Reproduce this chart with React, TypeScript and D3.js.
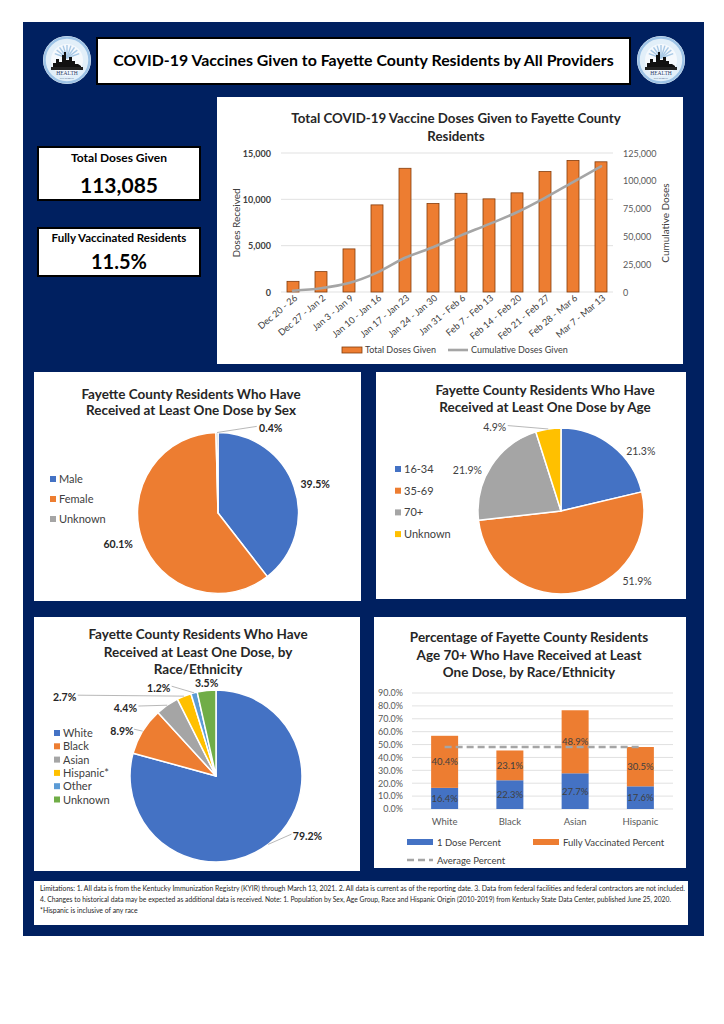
import React from 'react';
import * as d3 from 'd3';

// ---------- DATA ----------
const weekLabels = [
  'Dec 20 - 26', 'Dec 27 - Jan 2', 'Jan 3 - Jan 9', 'Jan 10 - Jan 16', 'Jan 17 - Jan 23', 'Jan 24 - Jan 30',
  'Jan 31 - Feb 6', 'Feb 7 - Feb 13', 'Feb 14 - Feb 20', 'Feb 21 - Feb 27', 'Feb 28 - Mar 6', 'Mar 7 - Mar 13',
];
const weeklyDoses = [1150, 2200, 4650, 9400, 13350, 9550, 10650, 10050, 10700, 13000, 14200, 14050];
const cumulativeDoses = [1150, 3350, 8000, 17400, 30750, 40300, 50950, 61000, 71700, 84700, 98900, 112950];
const leftTicks = [0, 5000, 10000, 15000];
const rightTicks = [0, 25000, 50000, 75000, 100000, 125000];

const sexCategories = ['Male', 'Female', 'Unknown'];
const sexValues = [39.5, 60.1, 0.4];
const ageCategories = ['16-34', '35-69', '70+', 'Unknown'];
const ageValues = [21.3, 51.9, 21.9, 4.9];
const raceCategories = ['White', 'Black', 'Asian', 'Hispanic*', 'Other', 'Unknown'];
const raceValues = [79.2, 8.9, 4.4, 2.7, 1.2, 3.5];

const groups70 = ['White', 'Black', 'Asian', 'Hispanic'];
const oneDosePct = [16.4, 22.3, 27.7, 17.6];
const fullyVaxPct = [40.4, 23.1, 48.9, 30.5];
const averagePct = 48.1;
const pctTicks = [0, 10, 20, 30, 40, 50, 60, 70, 80, 90];

const totalDosesText = '113,085';
const fullyVaxText = '11.5%';

const footerLines = [
  'Limitations: 1. All data is from the Kentucky Immunization Registry (KYIR) through March 13, 2021. 2. All data is current as of the reporting date. 3. Data from federal facilities and federal contractors are not included.',
  '4. Changes to historical data may be expected as additional data is received. Note: 1. Population by Sex, Age Group, Race and Hispanic Origin (2010-2019) from Kentucky State Data Center, published June 25, 2020.',
  '*Hispanic is inclusive of any race',
];

// ---------- STYLE ----------
const NAVY = '#002060';
const FONT = 'Lato, "Open Sans", sans-serif';
const BLUE = '#4472C4';
const ORANGE = '#ED7D31';
const GRAY = '#A5A5A5';
const YELLOW = '#FFC000';
const LBLUE = '#5B9BD5';
const GREEN = '#70AD47';
const TXT = '#262626';
const AX = '#595959';

const fmt = d3.format(',');

function Logo({ cx, cy }: { cx: number; cy: number }) {
  const rays = d3.range(0, 9).map((i) => -160 + i * 17.5);
  const sky: [number, number][] = [
    [-14, 8], [-14, 3], [-11, 3], [-11, -1], [-8, -1], [-8, 2], [-5, 2], [-5, -5], [-3, -5], [-3, -8], [-1, -8],
    [-1, 0], [2, 0], [2, -3], [5, -3], [5, 1], [8, 1], [8, 4], [11, 4], [14, 6], [14, 8],
  ];
  return (
    <g transform={`translate(${cx},${cy})`}>
      <circle r={24} fill="#ffffff" />
      <circle r={22.5} fill="#E2EFF9" stroke="#9DC3E6" strokeWidth={2.5} />
      <circle r={16} fill="#F5F9FD" />
      {rays.map((a, i) => (
        <line key={i} x1={0} y1={-2} x2={Math.cos((a * Math.PI) / 180) * 13} y2={-2 + Math.sin((a * Math.PI) / 180) * 13}
          stroke="#A9C9E6" strokeWidth={1.4} />
      ))}
      <polygon points={sky.map((p) => p.join(',')).join(' ')} fill="#111" />
      <rect x={-16} y={7} width={32} height={3} fill="#222" />
      <text x={0} y={15} textAnchor="middle" fontFamily="serif" fontSize={5.5} fill="#1F3864">HEALTH</text>
      <text x={0} y={19} textAnchor="middle" fontFamily="serif" fontSize={2.2} fill="#1F3864">DEPARTMENT</text>
    </g>
  );
}

function BarLineChart() {
  const x = d3.scalePoint<string>().domain(weekLabels).range([293, 601]);
  const bw = 12;
  const yL = d3.scaleLinear().domain([0, 15000]).range([292, 153]);
  const yR = d3.scaleLinear().domain([0, 125000]).range([292, 153]);
  const line = d3
    .line<number>()
    .x((_, i) => x(weekLabels[i])!)
    .y((d) => yR(d))
    .curve(d3.curveMonotoneX);
  return (
    <g fontFamily={FONT}>
      <rect x={217} y={97} width={466} height={267} fill="#fff" />
      <text x={456} y={123} textAnchor="middle" fontSize={13.3} fontWeight={700} fill={TXT}>
        Total COVID-19 Vaccine Doses Given to Fayette County
      </text>
      <text x={456} y={141} textAnchor="middle" fontSize={13.3} fontWeight={700} fill={TXT}>Residents</text>
      {leftTicks.map((t) => (
        <g key={t}>
          <line x1={281} x2={613} y1={yL(t)} y2={yL(t)} stroke="#D9D9D9" strokeWidth={0.8} />
          <text x={271} y={yL(t) + 3.5} textAnchor="end" fontSize={9} fontWeight={700} fill="#404040">{fmt(t)}</text>
        </g>
      ))}
      {rightTicks.map((t) => (
        <text key={t} x={623} y={yR(t) + 3.5} fontSize={9} fill={AX}>{fmt(t)}</text>
      ))}
      {weeklyDoses.map((v, i) => (
        <rect key={i} x={x(weekLabels[i])! - bw / 2} y={yL(v)} width={bw} height={yL(0) - yL(v)}
          fill={ORANGE} stroke="#843C0C" strokeWidth={0.8} />
      ))}
      <path d={line(cumulativeDoses)!} fill="none" stroke={GRAY} strokeWidth={2.6} strokeLinecap="round" />
      {weekLabels.map((l) => (
        <text key={l} transform={`translate(${x(l)! + 5},${299}) rotate(-40)`} textAnchor="end" fontSize={9.2} fill="#404040">
          {l}
        </text>
      ))}
      <text transform={`translate(240,223) rotate(-90)`} textAnchor="middle" fontSize={10} fill="#404040">Doses Received</text>
      <text transform={`translate(669,223) rotate(-90)`} textAnchor="middle" fontSize={10} fill="#404040">Cumulative Doses</text>
      <rect x={342} y={347} width={20} height={6} fill={ORANGE} stroke="#843C0C" strokeWidth={0.8} />
      <text x={365} y={353} fontSize={9} fill="#404040">Total Doses Given</text>
      <line x1={448} x2={468} y1={350} y2={350} stroke={GRAY} strokeWidth={2.6} />
      <text x={471} y={353} fontSize={9} fill="#404040">Cumulative Doses Given</text>
    </g>
  );
}

type LabelCfg = { f: number; dx: number; dy: number; leader?: number };

function PieChart(props: {
  cx: number; cy: number; r: number; values: number[]; colors: string[]; labels: LabelCfg[]; bold: boolean;
}) {
  const { cx, cy, r, values, colors, labels, bold } = props;
  const arcs = d3.pie<number>().sort(null)(values);
  const arc = d3.arc<d3.PieArcDatum<number>>().innerRadius(0).outerRadius(r);
  return (
    <g transform={`translate(${cx},${cy})`} fontFamily={FONT}>
      {arcs.map((a, i) => (
        <path key={i} d={arc(a)!} fill={colors[i]} stroke="#fff" strokeWidth={1.5} strokeLinejoin="round" />
      ))}
      {arcs.map((a, i) => {
        const cfg = labels[i];
        const mid = (a.startAngle + a.endAngle) / 2;
        const lx = Math.sin(mid) * r * cfg.f + cfg.dx;
        const ly = -Math.cos(mid) * r * cfg.f + cfg.dy;
        const ex = Math.sin(mid) * r;
        const ey = -Math.cos(mid) * r;
        return (
          <g key={i}>
            {cfg.leader !== undefined && (
              <line x1={ex} y1={ey} x2={lx + cfg.leader} y2={ly - 2} stroke="#A6A6A6" strokeWidth={0.8} />
            )}
            <text x={lx} y={ly + 3.5} textAnchor="middle" fontSize={10.5} fontWeight={bold ? 700 : 400}
              fill={bold ? TXT : '#404040'}>
              {`${values[i].toFixed(1)}%`}
            </text>
          </g>
        );
      })}
    </g>
  );
}

function Legend({ x, y, step, items, colors }: { x: number; y: number; step: number; items: string[]; colors: string[] }) {
  return (
    <g fontFamily={FONT}>
      {items.map((it, i) => (
        <g key={it} transform={`translate(${x},${y + i * step})`}>
          <rect x={-3} y={-3} width={6} height={6} fill={colors[i]} />
          <text x={6} y={4} fontSize={11} fill="#404040">{it}</text>
        </g>
      ))}
    </g>
  );
}

function StackedChart() {
  const x = d3.scalePoint<string>().domain(groups70).range([412, 673]).padding(0.5);
  const y = d3.scaleLinear().domain([0, 90]).range([809, 693]);
  const bw = 27;
  const dash = '7,4';
  return (
    <g fontFamily={FONT}>
      <rect x={374} y={617} width={312} height={251} fill="#fff" />
      {['Percentage of Fayette County Residents', 'Age 70+ Who Have Received at Least', 'One Dose, by Race/Ethnicity'].map((t, i) => (
        <text key={i} x={529} y={642 + i * 17.5} textAnchor="middle" fontSize={13.5} fontWeight={700} fill={TXT}>{t}</text>
      ))}
      {pctTicks.map((t) => (
        <g key={t}>
          <line x1={412} x2={673} y1={y(t)} y2={y(t)} stroke="#D9D9D9" strokeWidth={0.8} />
          <text x={403} y={y(t) + 3.3} textAnchor="end" fontSize={9} fill={AX}>{`${t.toFixed(1)}%`}</text>
        </g>
      ))}
      {groups70.map((g, i) => {
        const cx = x(g)!;
        const a = oneDosePct[i];
        const b = fullyVaxPct[i];
        return (
          <g key={g}>
            <rect x={cx - bw / 2} y={y(a)} width={bw} height={y(0) - y(a)} fill={BLUE} />
            <rect x={cx - bw / 2} y={y(a + b)} width={bw} height={y(a) - y(a + b)} fill={ORANGE} />
            <text x={cx} y={y(a / 2) + 3.5} textAnchor="middle" fontSize={9.5} fill="#404040">{`${a.toFixed(1)}%`}</text>
            <text x={cx} y={y(a + b / 2) + 3.5} textAnchor="middle" fontSize={9.5} fill="#404040">{`${b.toFixed(1)}%`}</text>
            <text x={cx} y={825} textAnchor="middle" fontSize={9.5} fill={AX}>{g}</text>
          </g>
        );
      })}
      <line x1={x(groups70[0])!} x2={x(groups70[groups70.length - 1])!} y1={y(averagePct)} y2={y(averagePct)}
        stroke={GRAY} strokeWidth={2.4} strokeDasharray={dash} />
      <rect x={407} y={839} width={26} height={6} fill={BLUE} />
      <text x={437} y={845.5} fontSize={9.5} fill="#404040">1 Dose Percent</text>
      <rect x={533} y={839} width={26} height={6} fill={ORANGE} />
      <text x={563} y={845.5} fontSize={9.5} fill="#404040">Fully Vaccinated Percent</text>
      <line x1={407} x2={433} y1={860} y2={860} stroke={GRAY} strokeWidth={2.4} strokeDasharray={dash} />
      <text x={437} y={863.5} fontSize={9.5} fill="#404040">Average Percent</text>
    </g>
  );
}

export default function App() {
  return (
    <svg width={724} height={1024} viewBox="0 0 724 1024" style={{ position: 'absolute', left: 0, top: 0, background: '#fff' }}>
      <rect x={23} y={22} width={681} height={914} fill={NAVY} />
      {/* Header */}
      <rect x={97} y={38} width={533} height={46} fill="#fff" stroke="#000" strokeWidth={2} />
      <text x={363.5} y={66} textAnchor="middle" fontFamily={FONT} fontSize={15.9} fontWeight={700} fill="#000">
        COVID-19 Vaccines Given to Fayette County Residents by All Providers
      </text>
      <Logo cx={67} cy={60} />
      <Logo cx={661} cy={60} />

      {/* Stat boxes */}
      <g fontFamily={FONT} fill="#000" textAnchor="middle">
        <rect x={38} y={147} width={162} height={53} fill="#fff" stroke="#000" strokeWidth={2} />
        <text x={119} y={162} fontSize={12} fontWeight={700}>Total Doses Given</text>
        <text x={119} y={193} fontSize={21} fontWeight={700}>{totalDosesText}</text>
        <rect x={38} y={228} width={162} height={48} fill="#fff" stroke="#000" strokeWidth={2} />
        <text x={119} y={242} fontSize={11.5} fontWeight={700}>Fully Vaccinated Residents</text>
        <text x={119} y={269} fontSize={20} fontWeight={700}>{fullyVaxText}</text>
      </g>

      <BarLineChart />

      {/* Sex pie */}
      <rect x={34} y={372} width={327} height={229} fill="#fff" />
      <g fontFamily={FONT} textAnchor="middle" fontSize={13.5} fontWeight={700} fill={TXT}>
        <text x={191} y={399}>Fayette County Residents Who Have</text>
        <text x={191} y={415}>Received at Least One Dose by Sex</text>
      </g>
      <PieChart cx={218} cy={513} r={80.5} values={sexValues} colors={[BLUE, ORANGE, GRAY]} bold
        labels={[{ f: 1.25, dx: 2, dy: 4 }, { f: 1.25, dx: -5, dy: -2 }, { f: 1.25, dx: 54, dy: 16, leader: -14 }]} />
      <Legend x={53} y={479} step={20} items={sexCategories} colors={[BLUE, ORANGE, GRAY]} />

      {/* Age pie */}
      <rect x={376} y={372} width={310} height={227} fill="#fff" />
      <g fontFamily={FONT} textAnchor="middle" fontSize={13.5} fontWeight={700} fill={TXT}>
        <text x={545} y={395}>Fayette County Residents Who Have</text>
        <text x={545} y={412}>Received at Least One Dose by Age</text>
      </g>
      <PieChart cx={561} cy={511} r={83} values={ageValues} colors={[BLUE, ORANGE, GRAY, YELLOW]} bold={false}
        labels={[{ f: 1.2, dx: 18, dy: 19 }, { f: 1.2, dx: 59, dy: -28 }, { f: 1.2, dx: -10, dy: 14 }, { f: 1.2, dx: -51, dy: 15, leader: 13 }]} />
      <Legend x={398} y={469} step={21.7} items={ageCategories} colors={[BLUE, ORANGE, GRAY, YELLOW]} />

      {/* Race pie */}
      <rect x={34} y={617} width={326} height={254} fill="#fff" />
      <g fontFamily={FONT} textAnchor="middle" fontSize={13.5} fontWeight={700} fill={TXT}>
        <text x={198} y={639}>Fayette County Residents Who Have</text>
        <text x={198} y={657}>Received at Least One Dose, by</text>
        <text x={198} y={674}>Race/Ethnicity</text>
      </g>
      <PieChart cx={216} cy={776} r={86} values={raceValues} colors={[BLUE, ORANGE, GRAY, YELLOW, LBLUE, GREEN]} bold
        labels={[
          { f: 1.2, dx: 29, dy: -22, leader: -16 },
          { f: 1.2, dx: -6, dy: 9, leader: 12 },
          { f: 1.2, dx: -32, dy: 17, leader: 13 },
          { f: 1.2, dx: -113, dy: 17, leader: 13 },
          { f: 1.2, dx: -31, dy: 12, leader: 13 },
          { f: 1.2, dx: 2, dy: 10 },
        ]} />
      <Legend x={57} y={733} step={13.3} items={raceCategories} colors={[BLUE, ORANGE, GRAY, YELLOW, LBLUE, GREEN]} />

      <StackedChart />

      {/* Footer */}
      <rect x={34} y={881} width={654} height={44} fill="#fff" />
      <g fontFamily={FONT} fontSize={6.9} fill="#262626">
        <text x={40} y={891} textLength={645} lengthAdjust="spacingAndGlyphs">{footerLines[0]}</text>
        <text x={40} y={902} textLength={631} lengthAdjust="spacingAndGlyphs">{footerLines[1]}</text>
        <text x={40} y={913}>{footerLines[2]}</text>
      </g>
    </svg>
  );
}
